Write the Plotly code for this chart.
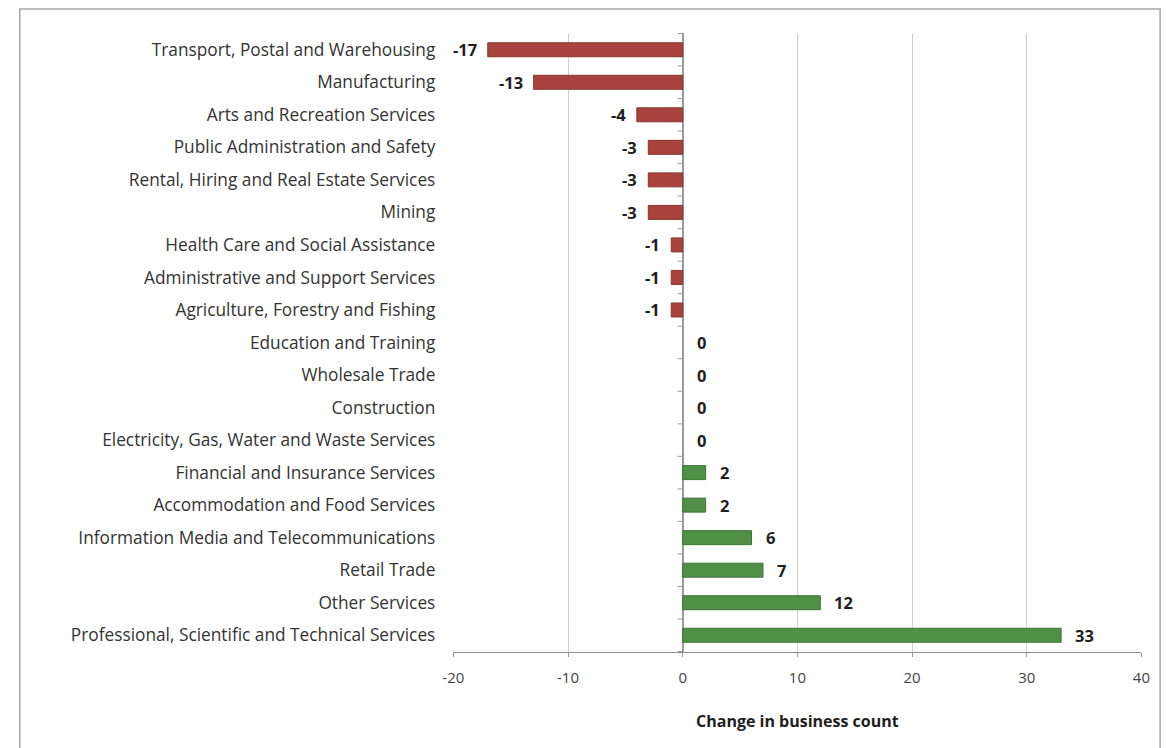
import plotly.graph_objects as go

# Industry changes in business count, listed top to bottom
industries = [
    "Transport, Postal and Warehousing",
    "Manufacturing",
    "Arts and Recreation Services",
    "Public Administration and Safety",
    "Rental, Hiring and Real Estate Services",
    "Mining",
    "Health Care and Social Assistance",
    "Administrative and Support Services",
    "Agriculture, Forestry and Fishing",
    "Education and Training",
    "Wholesale Trade",
    "Construction",
    "Electricity, Gas, Water and Waste Services",
    "Financial and Insurance Services",
    "Accommodation and Food Services",
    "Information Media and Telecommunications",
    "Retail Trade",
    "Other Services",
    "Professional, Scientific and Technical Services",
]
changes = [-17, -13, -4, -3, -3, -3, -1, -1, -1, 0, 0, 0, 0, 2, 2, 6, 7, 12, 33]

x_ticks = [-20, -10, 0, 10, 20, 30, 40]

RED = "#a8443d"
GREEN = "#4f8f46"
bar_colors = [RED if v < 0 else GREEN for v in changes]
edge_colors = ["#8a3530" if v < 0 else "#3e7537" for v in changes]
edge_widths = [0 if v == 0 else 1 for v in changes]

FONT = "'Open Sans', 'Noto Sans', sans-serif"

fig = go.Figure()
fig.add_trace(go.Bar(
    x=changes,
    y=industries,
    orientation="h",
    marker=dict(color=bar_colors, line=dict(color=edge_colors, width=edge_widths)),
    width=0.43,
    hoverinfo="x+y",
    showlegend=False,
))

# value labels beside each bar end
for name, v in zip(industries, changes):
    fig.add_annotation(
        x=v, y=name, xref="x", yref="y",
        text=f"<b>{v}</b>",
        showarrow=False,
        xanchor="right" if v < 0 else "left",
        xshift=-9 if v < 0 else 12,
        font=dict(family=FONT, size=16.5, color="#1e1e1e"),
    )

# small category tick marks on the vertical axis at x = 0
n = len(industries)
for k in range(n + 1):
    fig.add_shape(
        type="line", xref="x", yref="y",
        xsizemode="pixel", xanchor=0, x0=-5, x1=0,
        y0=k - 0.5, y1=k - 0.5,
        line=dict(color="#9a9a9a", width=1),
    )

fig.add_annotation(
    x=0.5, y=-0.09, xref="x domain", yref="y domain",
    text="<b>Change in business count</b>",
    showarrow=False, xanchor="center", yanchor="top",
    font=dict(family=FONT, size=16, color="#1e1e1e"),
)

# chart frame
fig.add_shape(
    type="rect", xref="paper", yref="paper",
    x0=9 / 1176, x1=1169 / 1176, y0=-0.02, y1=1 - 9 / 748,
    line=dict(color="#a8a8a8", width=1.5), fillcolor="rgba(0,0,0,0)",
    layer="below",
)

fig.update_xaxes(
    domain=[450 / 1176, 1150 / 1176],
    range=[-20, 40],
    tickvals=x_ticks,
    ticktext=[str(t) for t in x_ticks],
    showgrid=True, gridcolor="#d0d0d0", gridwidth=1,
    zeroline=True, zerolinecolor="#9a9a9a", zerolinewidth=1.6,
    showline=True, linecolor="#8f8f8f", linewidth=1.2,
    ticks="outside", ticklen=4, tickcolor="#999999",
    ticklabelstandoff=8,
    tickfont=dict(family=FONT, size=15, color="#444444"),
    fixedrange=True,
)
fig.update_yaxes(
    domain=[96 / 748, 715 / 748],
    categoryorder="array",
    categoryarray=industries[::-1],
    showgrid=False, showline=False, zeroline=False,
    ticks="", ticklabelstandoff=17,
    tickfont=dict(family=FONT, size=17.3, color="#333333"),
    fixedrange=True,
)

fig.update_layout(
    width=1176, height=748,
    margin=dict(l=0, r=0, t=0, b=0),
    paper_bgcolor="#ffffff",
    plot_bgcolor="#ffffff",
    bargap=0.57,
    font=dict(family=FONT),
)

fig.write_html("out.html")
